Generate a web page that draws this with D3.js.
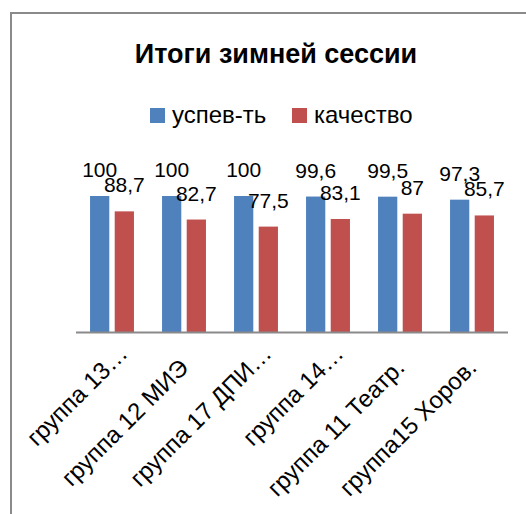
<!DOCTYPE html>
<html>
<head>
<meta charset="utf-8">
<script src="https://cdn.jsdelivr.net/npm/d3@7"></script>
<style>
  body { margin: 0; background: #fff; }
  text { font-family: "Liberation Sans", Arial, sans-serif; fill: #000; }
</style>
</head>
<body>
<div id="chart"></div>
<script>
// chart data
const categories = ["группа 13…", "группа 12 МИЭ", "группа 17 ДПИ…", "группа 14…", "группа 11 Театр.", "группа15 Хоров."];
const seriesNames = ["успев-ть", "качество"];
const uspev = [100, 100, 100, 99.6, 99.5, 97.3];
const kachestvo = [88.7, 82.7, 77.5, 83.1, 87, 85.7];
const colors = ["#4F81BD", "#C0504D"];

const width = 526;
const height = 514;
const plot = { left: 76, right: 508, top: 196, bottom: 332 };

var svg = d3.select("#chart")
    .append("svg")
    .attr("width", width)
    .attr("height", height);

// chart frame (cut off at the right and bottom)
svg.append("rect")
    .attr("x", 11)
    .attr("y", 13)
    .attr("width", 600)
    .attr("height", 600)
    .attr("fill", "none")
    .attr("stroke", "#8a8a8a")
    .attr("stroke-width", 2);

// title
svg.append("text")
    .attr("x", 276)
    .attr("y", 63)
    .attr("text-anchor", "middle")
    .style("font-size", "27px")
    .style("font-weight", "bold")
    .text("Итоги зимней сессии");

// legend
var legendPos = [150, 292];
seriesNames.forEach(function (name, i) {
    svg.append("rect")
        .attr("x", legendPos[i])
        .attr("y", 108)
        .attr("width", 15)
        .attr("height", 15)
        .attr("fill", colors[i]);
    svg.append("text")
        .attr("x", legendPos[i] + 22)
        .attr("y", 123)
        .style("font-size", "24px")
        .text(name);
});

// scales
var x0 = d3.scaleBand()
    .domain(categories)
    .range([plot.left, plot.right])
    .paddingInner(0.39)
    .paddingOuter(0.195);

var x1 = d3.scaleBand()
    .domain(seriesNames)
    .range([0, x0.bandwidth()])
    .paddingInner(0.22);

var y = d3.scaleLinear()
    .domain([0, 100])
    .range([plot.bottom, plot.top]);

var table = categories.map(function (c, i) {
    return { cat: c, values: [uspev[i], kachestvo[i]] };
});

// bars
var groups = svg.selectAll(".grp")
    .data(table)
    .enter().append("g")
    .attr("class", "grp")
    .attr("transform", d => "translate(" + x0(d.cat) + ",0)");

groups.selectAll("rect")
    .data(d => d.values.map((v, i) => ({ key: seriesNames[i], v: v, i: i })))
    .enter().append("rect")
    .attr("x", d => x1(d.key))
    .attr("y", d => y(d.v))
    .attr("width", x1.bandwidth())
    .attr("height", d => y(0) - y(d.v))
    .attr("fill", d => colors[d.i]);

// axis line
svg.append("line")
    .attr("x1", plot.left)
    .attr("x2", plot.right)
    .attr("y1", y(0) + 0.5)
    .attr("y2", y(0) + 0.5)
    .attr("stroke", "#8a8a8a")
    .attr("stroke-width", 2);

// data labels
seriesNames.forEach(function (name, s) {
    svg.selectAll(".lbl" + s)
        .data(table)
        .enter().append("text")
        .attr("class", "lbl" + s)
        .attr("x", d => x0(d.cat) + x1(name) + x1.bandwidth() / 2)
        .attr("y", d => y(d.values[s]) - 19)
        .attr("text-anchor", "middle")
        .style("font-size", "21px")
        .text(d => String(d.values[s]).replace(".", ","));
});

// category labels, rotated
svg.selectAll(".cat")
    .data(categories)
    .enter().append("text")
    .attr("class", "cat")
    .attr("text-anchor", "end")
    .style("font-size", "24px")
    .attr("transform", function (d) {
        var cx = x0(d) + x0.bandwidth() / 2;
        var cut = d.endsWith("…");
        var ax = cx + (cut ? 17 : 6);
        var ay = cut ? 355 : 369;
        return "translate(" + ax + "," + ay + ") rotate(-45)";
    })
    .text(d => d);
</script>
</body>
</html>
